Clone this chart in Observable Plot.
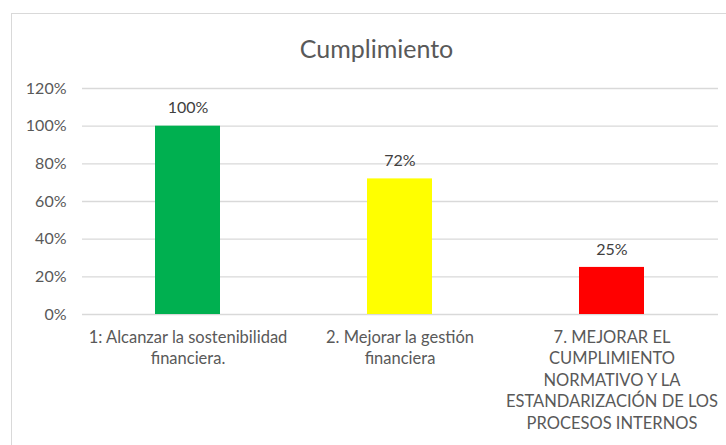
<!DOCTYPE html>
<html><head><meta charset="utf-8">
<script src="https://cdn.jsdelivr.net/npm/d3@7"></script>
<script src="https://cdn.jsdelivr.net/npm/@observablehq/plot@0.6"></script>
<style>
body{margin:0;background:#fff;}
#wrap{position:relative;width:726px;height:445px;overflow:hidden;}
#border{position:absolute;left:11px;top:13px;width:740px;height:460px;border:1px solid #d9d9d9;box-sizing:border-box;}
#chart{position:absolute;left:0;top:0;}
</style></head>
<body>
<div id="wrap"><div id="border"></div><div id="chart"></div></div>
<script>
const title = "Cumplimiento";
const categories = [
  "1: Alcanzar la sostenibilidad\nfinanciera.",
  "2. Mejorar la gestión\nfinanciera",
  "7. MEJORAR EL\nCUMPLIMIENTO\nNORMATIVO Y LA\nESTANDARIZACIÓN DE LOS\nPROCESOS INTERNOS"
];
const values = [1.00, 0.72, 0.25];
const colors = ["#00b050", "#ffff00", "#ff0000"];
const yTicks = [0, 0.2, 0.4, 0.6, 0.8, 1.0, 1.2];

const data = categories.map((c, i) => ({cat: c, value: values[i], color: colors[i]}));
const pct = d => Math.round(d * 100) + "%";
const font = "Lato, 'Open Sans', sans-serif";

const chart = Plot.plot({
  width: 726,
  height: 445,
  marginLeft: 82,
  marginRight: 8,
  marginTop: 88,
  marginBottom: 131,
  style: {fontFamily: font, background: "transparent", overflow: "visible"},
  x: {domain: categories, paddingInner: 0.693, paddingOuter: 0.3465, axis: null},
  y: {domain: [0, 1.2], axis: null},
  marks: [
    Plot.ruleY(yTicks, {stroke: "#d9d9d9", strokeWidth: 1.3}),
    Plot.axisY({ticks: yTicks, tickFormat: pct, tickSize: 0, tickPadding: 16, fontSize: 16, color: "#595959", label: null}),
    Plot.barY(data, {x: "cat", y: "value", fill: "color"}),
    Plot.text(data, {x: "cat", y: "value", text: d => pct(d.value), dy: -18, fontSize: 16, fill: "#404040"}),
    Plot.axisX({tickSize: 0, tickPadding: 13, fontSize: 16.5, color: "#595959", lineHeight: 1.3, textAnchor: "middle", label: null}),
    Plot.text([title], {frameAnchor: "top", text: d => d, dx: -24, dy: -39, lineAnchor: "middle", fontSize: 25, fill: "#595959"})
  ]
});
document.getElementById("chart").appendChild(chart);
</script>
</body></html>
